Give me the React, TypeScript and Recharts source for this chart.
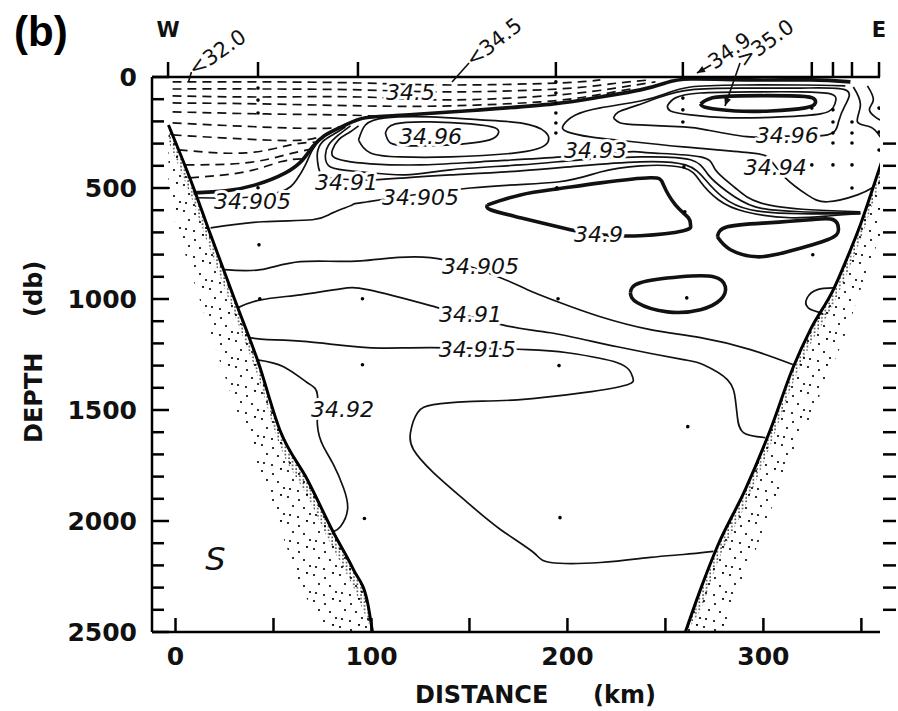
import React from 'react';
import { ComposedChart, Line, Area, Scatter, XAxis, YAxis, ReferenceDot } from 'recharts';

type Pt = [number, number]; // [distance km, depth db]

const FONT = '"DejaVu Sans", Verdana, sans-serif';
const INK = '#111';

// ---- axes ----
const distanceTicks = [0, 50, 100, 150, 200, 250, 300, 350];
const depthTicks = [0, 100, 200, 300, 400, 500, 600, 700, 800, 900, 1000, 1100, 1200, 1300, 1400, 1500, 1600, 1700, 1800, 1900, 2000, 2100, 2200, 2300, 2400, 2500];
const rightDepthTicks = [300, 400, 500, 600, 700, 800, 900, 1000, 1100, 1200, 1300, 1400, 1500, 1600, 1700, 1800, 1900, 2000, 2100, 2200, 2300, 2400];
const stationKm = [-3.8, 42.1, 93.1, 194.1, 258.9, 324.7, 335.5, 345.2, 359];
const stationNames = ['W', '', '', '', '', '', '', '', 'E'];

// ---- bottom topography (slope line + stipple limits) ----
const westSlopeKm = [-3.6, 7.7, 17.9, 31.6, 41.8, 53.6, 67.3, 80.6, 90.8, 98, 100.5];
const westSlopeDb = [216, 464, 711, 1035, 1274, 1598, 1814, 2052, 2219, 2367, 2500];
const westDenseDb = [290, 535, 785, 1105, 1345, 1670, 1890, 2130, 2300, 2450, 2500];
const westEdgeDb = [560, 875, 1155, 1510, 1745, 2040, 2355, 2500, 2500, 2500, 2500];

const eastSlopeKm = [260.2, 267.9, 276.5, 290.8, 303.6, 315.3, 324, 335.7, 343.4, 349.5, 355.6, 360.7];
const eastSlopeDb = [2500, 2308, 2115, 1858, 1588, 1305, 1138, 958, 801, 666, 508, 373];
const eastDenseDb = [2500, 2400, 2190, 1930, 1660, 1375, 1205, 1025, 870, 735, 575, 440];
const eastEdgeDb = [2500, 2500, 2500, 2250, 1955, 1710, 1530, 1290, 1120, 960, 810, 690];

// ---- salinity contours ----
const surface349: Pt[] = [[9.2, 522], [25.5, 513], [40.8, 486], [56.1, 432], [64.8, 374], [69.9, 315], [76.5, 261], [86.7, 216], [96.9, 184], [117.3, 171], [155.6, 148], [192.9, 121], [216.8, 90], [237.2, 58], [250, 27], [262.8, 9], [293.4, 13], [324, 13], [344.4, 22]];

const fresh1: Pt[] = [[-1.5, 22], [43.4, 22], [94.4, 27], [140.3, 36], [194.9, 27], [216.8, 13]];
const fresh2: Pt[] = [[-1.5, 54], [43.4, 54], [94.4, 58], [140.3, 67], [194.9, 54], [222, 31], [242.3, 13]];
const fresh3: Pt[] = [[-1.5, 85], [43.4, 90], [94.4, 90], [140.3, 103], [194.9, 81], [224.5, 50], [244.9, 22]];
const fresh4: Pt[] = [[-1.5, 117], [43.4, 121], [94.4, 130], [140.3, 130], [186.2, 112], [211.7, 86], [234.7, 50]];
const fresh5: Pt[] = [[-1.5, 157], [43.4, 166], [84.2, 171], [104, 177]];
const fresh6: Pt[] = [[-1.5, 207], [43.4, 225], [79.1, 230], [89.3, 205]];
const fresh7: Pt[] = [[-1.5, 261], [43.4, 283], [66.3, 283], [76, 262]];
const fresh8: Pt[] = [[1.5, 328], [35.7, 342], [58.7, 306], [72.5, 293]];
const fresh9: Pt[] = [[5, 396], [35.7, 387], [56.1, 351], [69, 325]];
const fresh10: Pt[] = [[7.3, 454], [35.7, 427], [53.6, 382], [65.5, 368]];

const hook34905: Pt[] = [[11.7, 544], [33.2, 544], [53.6, 517], [61.7, 464], [66.3, 396], [69.9, 328], [75, 274], [81.6, 238]];
const tongue3491: Pt[] = [[349.5, 616], [318.9, 616], [293.4, 598], [279.1, 540], [270.4, 463], [260.2, 396], [237.2, 382], [206.6, 400], [176, 423], [140.3, 441], [117.3, 454], [100.5, 463], [79.1, 454], [73, 409], [72.4, 342], [75, 292], [80.1, 261], [86.7, 225]];
const tongue3492: Pt[] = [[349.5, 612], [318.9, 607], [295.9, 585], [281.6, 517], [271.9, 441], [262.8, 373], [237.2, 360], [206.6, 373], [176, 396], [140.3, 418], [117.3, 441], [94.4, 427], [79.1, 405], [76.5, 351], [78.1, 306], [83.2, 261], [89.3, 220]];
const tongue3493: Pt[] = [[349.5, 607], [324, 598], [298.5, 567], [285.7, 500], [275.5, 418], [267.9, 360], [242.3, 342], [231.1, 337], [197.4, 360], [155.6, 382], [125, 396], [99.5, 391], [86.7, 378], [80.6, 360], [80.1, 328], [83.2, 283], [88.3, 252], [93.4, 220]];
const line34905: Pt[] = [[17.9, 680], [44.4, 652], [69.9, 643], [80.1, 612], [90.3, 576], [98, 562], [150.5, 500], [194.9, 473], [216.8, 428], [237.2, 400], [259.2, 409], [267.9, 472], [277, 553], [290.8, 607], [313.8, 634], [334.2, 625], [349.5, 616]];

const westCore3493: Pt[] = [[93.4, 284], [96.9, 216], [107.1, 184], [130.1, 180], [155.6, 193], [176, 207], [188.8, 248], [188.8, 306], [173.5, 342], [140.3, 360], [114.8, 360], [99.5, 342], [93.4, 284]];
const westCore3496: Pt[] = [[107.1, 252], [112.2, 211], [130.1, 202], [150.5, 211], [163.3, 230], [164.3, 261], [158.2, 288], [140.3, 306], [119.9, 310], [109.7, 297], [107.1, 252]];
const east3494: Pt[] = [[341.8, 40], [318.9, 36], [288.3, 36], [262.8, 45], [250, 76], [237.2, 108], [216.8, 139], [204.1, 171], [198, 216], [200, 247], [211.7, 270], [225.5, 284], [259.2, 315], [293.4, 342], [303.6, 373], [311.2, 454], [322.4, 531], [332.7, 562], [348, 531], [355.6, 499]];
const east3496: Pt[] = [[223.5, 185], [227, 207], [237.2, 216], [259.2, 225], [271.4, 239], [293.4, 270], [312.2, 266], [332.7, 261], [338.3, 203], [341.8, 126], [341.8, 58], [318.9, 50], [288.3, 50], [262.8, 58], [247.4, 90], [234.7, 130], [226, 158], [223.5, 185]];
const east3498: Pt[] = [[251, 130], [255.1, 94], [267.9, 72], [293.4, 67], [318.9, 67], [334.2, 76], [337, 103], [335.5, 139], [329.1, 166], [308.7, 180], [283.2, 184], [262.8, 171], [252.6, 153], [251, 130]];
const core350: Pt[] = [[267.9, 121], [274, 94], [288.3, 85], [313.8, 85], [325, 94], [326.5, 117], [321.4, 139], [303.6, 153], [285.7, 153], [271.4, 139], [267.9, 121]];
const edgeA: Pt[] = [[345.9, 45], [349.5, 126], [348, 202], [354.6, 225], [359.7, 270]];
const edgeB: Pt[] = [[353.1, 40], [356.1, 103], [354.1, 148], [357.7, 184], [359.7, 194]];

const min349a: Pt[] = [[159.2, 576], [176, 531], [194.9, 504], [216.8, 477], [242.3, 454], [249, 486], [255.1, 576], [261.7, 634], [262.8, 666], [259.2, 693], [237.2, 715], [216.8, 711], [201.5, 688], [176, 634], [160.7, 598], [159.2, 576]];
const min349b: Pt[] = [[276.5, 720], [281.6, 675], [302, 657], [324, 643], [335.7, 643], [338.3, 688], [332.7, 733], [312.2, 787], [296.9, 810], [283.2, 778], [276.5, 720]];
const min349c: Pt[] = [[232.1, 972], [237.2, 927], [257.7, 900], [274.5, 900], [280.6, 945], [278, 1004], [267.9, 1048], [251, 1058], [235.7, 1017], [232.1, 972]];
const eastBulge: Pt[] = [[335.7, 950], [327.6, 958], [322.4, 994], [322.9, 1040], [329.1, 1062], [330.1, 1071]];

const deep34905: Pt[] = [[25, 868], [43.4, 868], [63.8, 832], [94.4, 828], [130.1, 814], [165.8, 904], [179.6, 958], [196.4, 1017], [216.8, 1080], [242.3, 1138], [267.9, 1174], [293.4, 1228], [315.3, 1296]];
const deep3491: Pt[] = [[31.6, 1040], [43.4, 1004], [63.8, 981], [84.2, 954], [98, 958], [130.1, 1030], [168.4, 1120], [191.3, 1152], [225.5, 1215], [259.2, 1273], [269.4, 1296], [281.6, 1363], [285.7, 1453], [286.7, 1530], [289.8, 1602], [301, 1624]];
const deep34915: Pt[] = [[37.8, 1174], [46.9, 1183], [67.3, 1192], [98, 1219], [130.1, 1219], [179.6, 1228], [200, 1242], [225.5, 1287], [233.2, 1350], [230.6, 1386], [208.2, 1422], [174.5, 1454], [149, 1462], [131.6, 1476], [123.5, 1512], [119.9, 1602], [121.4, 1678], [131.6, 1782], [149, 1917], [165.8, 2038], [182.7, 2142], [191.3, 2187], [216.8, 2187], [242.3, 2164], [259.2, 2151], [274.5, 2137]];
const deep3492: Pt[] = [[41.8, 1274], [55.1, 1305], [67.3, 1377], [72.4, 1431], [72.4, 1566], [75.5, 1665], [80.6, 1746], [85.7, 1850], [87.8, 1948], [84.2, 2025], [80.6, 2048]];

// ---- station sample points ----
const samplePoints: Pt[] = [
  [42.1, 50], [42.1, 104], [42.1, 162], [42.1, 499], [42.6, 756], [43, 999],
  [95.4, 999], [95.4, 1296], [96.4, 1989],
  [194.1, 22], [194.1, 72], [194.1, 117], [194.1, 162], [194.1, 207], [194.1, 252], [194.6, 499], [195.2, 999], [195.7, 1300], [196.2, 1985],
  [258.9, 95], [258.9, 148], [258.9, 203], [259.4, 405], [259.9, 607], [260.9, 995], [261.4, 1575],
  [324.7, 140], [324.7, 396], [325.2, 801],
  [335.5, 148], [335.5, 203], [335.5, 252], [335.5, 297], [335.5, 396],
  [345.2, 203], [345.2, 252], [345.2, 297], [345.2, 396], [345.2, 500],
  [359, 140], [359, 248], [359, 329],
];

// ---- contour labels ----
const labelText = ['34.5', '34.96', '34.93', '34.96', '34.94', '34.91', '34.905', '34.905', '34.9', '34.905', '34.91', '34.915', '34.92', 'S'];
const labelKm = [119.9, 130.1, 214.3, 312.2, 306.1, 87.2, 39.3, 125, 215.8, 155.6, 150.5, 154, 85.2, 20.4];
const labelDb = [72, 270, 333, 265, 409, 477, 562, 544, 711, 855, 1071, 1228, 1498, 2173];

// ---- surface annotations with arrows ----
const noteText = ['<32.0', '<34.5', '34.9', '>35.0'];
const noteKm = [6.6, 141.1, 266.1, 280.4];
const noteDb = [22.5, 22.5, -18, 130.5];

const rows = (pts: Pt[]) => pts.map(([km, db]) => ({ km, db }));

const THIN = 1.7;
const THICK = 3.6;
const contours = [
  { id: 'fresh1', pts: fresh1, w: THIN, dash: '9 6' },
  { id: 'fresh2', pts: fresh2, w: THIN, dash: '9 6' },
  { id: 'fresh3', pts: fresh3, w: THIN, dash: '9 6' },
  { id: 'fresh4', pts: fresh4, w: THIN, dash: '9 6' },
  { id: 'fresh5', pts: fresh5, w: THIN, dash: '9 6' },
  { id: 'fresh6', pts: fresh6, w: THIN, dash: '9 6' },
  { id: 'fresh7', pts: fresh7, w: THIN, dash: '9 6' },
  { id: 'fresh8', pts: fresh8, w: THIN, dash: '9 6' },
  { id: 'fresh9', pts: fresh9, w: THIN, dash: '9 6' },
  { id: 'fresh10', pts: fresh10, w: THIN, dash: '9 6' },
  { id: 'surface349', pts: surface349, w: THICK },
  { id: 'hook34905', pts: hook34905, w: THIN },
  { id: 'tongue3491', pts: tongue3491, w: THIN },
  { id: 'tongue3492', pts: tongue3492, w: THIN },
  { id: 'tongue3493', pts: tongue3493, w: THIN },
  { id: 'line34905', pts: line34905, w: THIN },
  { id: 'westCore3493', pts: westCore3493, w: THIN },
  { id: 'westCore3496', pts: westCore3496, w: THIN },
  { id: 'east3494', pts: east3494, w: THIN },
  { id: 'east3496', pts: east3496, w: THIN },
  { id: 'east3498', pts: east3498, w: THIN },
  { id: 'core350', pts: core350, w: THICK },
  { id: 'edgeA', pts: edgeA, w: THIN },
  { id: 'edgeB', pts: edgeB, w: THIN },
  { id: 'min349a', pts: min349a, w: THICK },
  { id: 'min349b', pts: min349b, w: THICK },
  { id: 'min349c', pts: min349c, w: THICK },
  { id: 'eastBulge', pts: eastBulge, w: THIN },
  { id: 'deep34905', pts: deep34905, w: THIN },
  { id: 'deep3491', pts: deep3491, w: THIN },
  { id: 'deep34915', pts: deep34915, w: THIN },
  { id: 'deep3492', pts: deep3492, w: THIN },
];

const westBand = westSlopeKm.map((km, i) => ({ km, dense: [westSlopeDb[i], westDenseDb[i]], sparse: [westSlopeDb[i], westEdgeDb[i]] }));
const eastBand = eastSlopeKm.map((km, i) => ({ km, dense: [eastSlopeDb[i], eastDenseDb[i]], sparse: [eastSlopeDb[i], eastEdgeDb[i]] }));
const westSlope = westSlopeKm.map((km, i) => ({ km, db: westSlopeDb[i] }));
const eastSlope = eastSlopeKm.map((km, i) => ({ km, db: eastSlopeDb[i] }));

const axisStroke = { stroke: '#000', strokeWidth: 2.5 };

const BottomTick = (p: any) => (
  <g>
    <line x1={p.x} y1={p.y} x2={p.x} y2={p.y - 14} stroke="#000" strokeWidth={2.5} />
    {p.payload.value % 100 === 0 && (
      <text x={p.x} y={p.y + 33} textAnchor="middle" fontFamily={FONT} fontSize={25} fontWeight="bold" fill={INK}>
        {p.payload.value}
      </text>
    )}
  </g>
);

const TopTick = (p: any) => (
  <g>
    <line x1={p.x} y1={p.y} x2={p.x} y2={p.y - 15} stroke="#000" strokeWidth={2.5} />
    <text x={p.x} y={p.y - 40} textAnchor="middle" fontFamily={FONT} fontSize={21} fontWeight="bold" fill={INK}>
      {stationNames[p.index]}
    </text>
  </g>
);

const LeftTick = (p: any) => {
  const v = p.payload.value;
  const major = v % 500 === 0;
  return (
    <g>
      <line x1={p.x} y1={p.y} x2={p.x + (major ? 17 : 12)} y2={p.y} stroke="#000" strokeWidth={2.5} />
      {major && (
        <text x={p.x - 15} y={p.y + 9} textAnchor="end" fontFamily={FONT} fontSize={25} fontWeight="bold" fill={INK}>
          {v}
        </text>
      )}
    </g>
  );
};

const RightTick = (p: any) => <line x1={p.x + 3} y1={p.y} x2={p.x + 16} y2={p.y} stroke="#000" strokeWidth={2.5} />;

const labelShape = (text: string) => (p: any) => (
  <text
    x={p.cx}
    y={p.cy}
    textAnchor="middle"
    dominantBaseline="central"
    fontFamily={FONT}
    fontStyle="italic"
    fontSize={text === 'S' ? 32 : 22}
    fill={INK}
    stroke="#fff"
    strokeWidth={6}
    strokeLinejoin="round"
    paintOrder="stroke"
  >
    {text}
  </text>
);

// leader offsets (px) for each annotation: where the line leaves the label, and the text angle
const noteLead = [[3, -10], [17, -19], [14, -8], [15, -43]];
const noteAngle = [-35, -38, -35, -36];
const noteHead = [false, false, true, true];

const noteShape = (i: number) => (p: any) => {
  const [dx, dy] = noteLead[i];
  const x0 = p.cx;
  const y0 = p.cy;
  const x1 = x0 + dx;
  const y1 = y0 + dy;
  const len = Math.hypot(dx, dy);
  const ux = -dx / len;
  const uy = -dy / len;
  const head = `${x0},${y0} ${x0 - 8 * ux - 3.5 * uy},${y0 - 8 * uy + 3.5 * ux} ${x0 - 8 * ux + 3.5 * uy},${y0 - 8 * uy - 3.5 * ux}`;
  return (
    <g>
      <line x1={x0} y1={y0} x2={x1} y2={y1} stroke={INK} strokeWidth={1.6} />
      {noteHead[i] && <polygon points={head} fill={INK} />}
      <text x={x1} y={y1} transform={`rotate(${noteAngle[i]} ${x1} ${y1})`} dominantBaseline="middle" fontFamily={FONT} fontSize={21} fill={INK}>
        {noteText[i]}
      </text>
    </g>
  );
};

export default function App() {
  return (
    <div style={{ position: 'absolute', left: 0, top: 0, width: 898, height: 711, background: '#fff' }}>
      <svg width={0} height={0} style={{ position: 'absolute' }}>
        <defs>
          <pattern id="stippleDense" width="3.6" height="3.6" patternUnits="userSpaceOnUse">
            <circle cx="1" cy="1" r="0.8" fill="#000" />
          </pattern>
          <pattern id="stippleSparse" width="26" height="26" patternUnits="userSpaceOnUse">
            <circle cx="2" cy="3" r="1.1" fill="#000" />
            <circle cx="13" cy="6" r="1.1" fill="#000" />
            <circle cx="21" cy="1" r="1.1" fill="#000" />
            <circle cx="7" cy="12" r="1.1" fill="#000" />
            <circle cx="18" cy="14" r="1.1" fill="#000" />
            <circle cx="24" cy="20" r="1.1" fill="#000" />
            <circle cx="4" cy="21" r="1.1" fill="#000" />
            <circle cx="12" cy="23" r="1.1" fill="#000" />
          </pattern>
        </defs>
      </svg>
      <ComposedChart width={898} height={711} margin={{ top: 37, right: 0, bottom: 39, left: 92 }}>
        <XAxis xAxisId="b" dataKey="km" type="number" domain={[-12, 359.5]} allowDataOverflow ticks={distanceTicks} interval={0} tick={BottomTick} tickLine={false} tickSize={0} tickMargin={0} axisLine={axisStroke} height={40} orientation="bottom" />
        <XAxis xAxisId="t" dataKey="km" type="number" domain={[-12, 359.5]} allowDataOverflow ticks={stationKm} interval={0} tick={TopTick} tickLine={false} tickSize={0} tickMargin={0} axisLine={axisStroke} height={40} orientation="top" />
        <YAxis yAxisId="l" dataKey="db" type="number" domain={[0, 2500]} reversed allowDataOverflow ticks={depthTicks} interval={0} tick={LeftTick} tickLine={false} tickSize={0} tickMargin={0} axisLine={axisStroke} width={60} />
        <YAxis yAxisId="r" dataKey="db" type="number" domain={[0, 2500]} reversed allowDataOverflow ticks={rightDepthTicks} interval={0} tick={RightTick} tickLine={false} tickSize={0} tickMargin={0} axisLine={false} width={18} orientation="right" />

        <Area data={westBand} dataKey="sparse" xAxisId="b" yAxisId="l" type="monotone" stroke="none" fill="url(#stippleSparse)" fillOpacity={1} isAnimationActive={false} />
        <Area data={westBand} dataKey="dense" xAxisId="b" yAxisId="l" type="monotone" stroke="none" fill="url(#stippleDense)" fillOpacity={1} isAnimationActive={false} />
        <Area data={eastBand} dataKey="sparse" xAxisId="b" yAxisId="l" type="monotone" stroke="none" fill="url(#stippleSparse)" fillOpacity={1} isAnimationActive={false} />
        <Area data={eastBand} dataKey="dense" xAxisId="b" yAxisId="l" type="monotone" stroke="none" fill="url(#stippleDense)" fillOpacity={1} isAnimationActive={false} />

        {contours.map((c) => (
          <Line
            key={c.id}
            data={rows(c.pts)}
            dataKey="db"
            xAxisId="b"
            yAxisId="l"
            type="natural"
            stroke={INK}
            strokeWidth={c.w}
            strokeDasharray={c.dash}
            dot={false}
            activeDot={false}
            isAnimationActive={false}
          />
        ))}

        <Line data={westSlope} dataKey="db" xAxisId="b" yAxisId="l" type="monotone" stroke="#000" strokeWidth={3} dot={false} activeDot={false} isAnimationActive={false} />
        <Line data={eastSlope} dataKey="db" xAxisId="b" yAxisId="l" type="monotone" stroke="#000" strokeWidth={3} dot={false} activeDot={false} isAnimationActive={false} />

        <Scatter data={rows(samplePoints)} dataKey="db" xAxisId="b" yAxisId="l" isAnimationActive={false} shape={(p: any) => <circle cx={p.cx} cy={p.cy} r={1.8} fill="#000" />} />

        {labelText.map((t, i) => (
          <ReferenceDot key={`lab${i}`} x={labelKm[i]} y={labelDb[i]} xAxisId="b" yAxisId="l" ifOverflow="visible" shape={labelShape(t)} />
        ))}
        {noteText.map((t, i) => (
          <ReferenceDot key={`note${i}`} x={noteKm[i]} y={noteDb[i]} xAxisId="b" yAxisId="l" ifOverflow="visible" shape={noteShape(i)} />
        ))}
      </ComposedChart>
      <svg width={898} height={711} style={{ position: 'absolute', left: 0, top: 0, pointerEvents: 'none' }}>
        <text x={14} y={46} fontFamily='"Liberation Sans", Arial, sans-serif' fontWeight="bold" fontSize={42} fill="#000">(b)</text>
        <text transform="translate(42 443) rotate(-90)" fontFamily={FONT} fontWeight="bold" fontSize={24} fill={INK}>DEPTH</text>
        <text transform="translate(42 317) rotate(-90)" fontFamily={FONT} fontWeight="bold" fontSize={24} fill={INK}>(db)</text>
        <text x={415} y={703} fontFamily={FONT} fontWeight="bold" fontSize={24} fill={INK}>DISTANCE</text>
        <text x={593} y={703} fontFamily={FONT} fontWeight="bold" fontSize={24} fill={INK}>(km)</text>
      </svg>
    </div>
  );
}
